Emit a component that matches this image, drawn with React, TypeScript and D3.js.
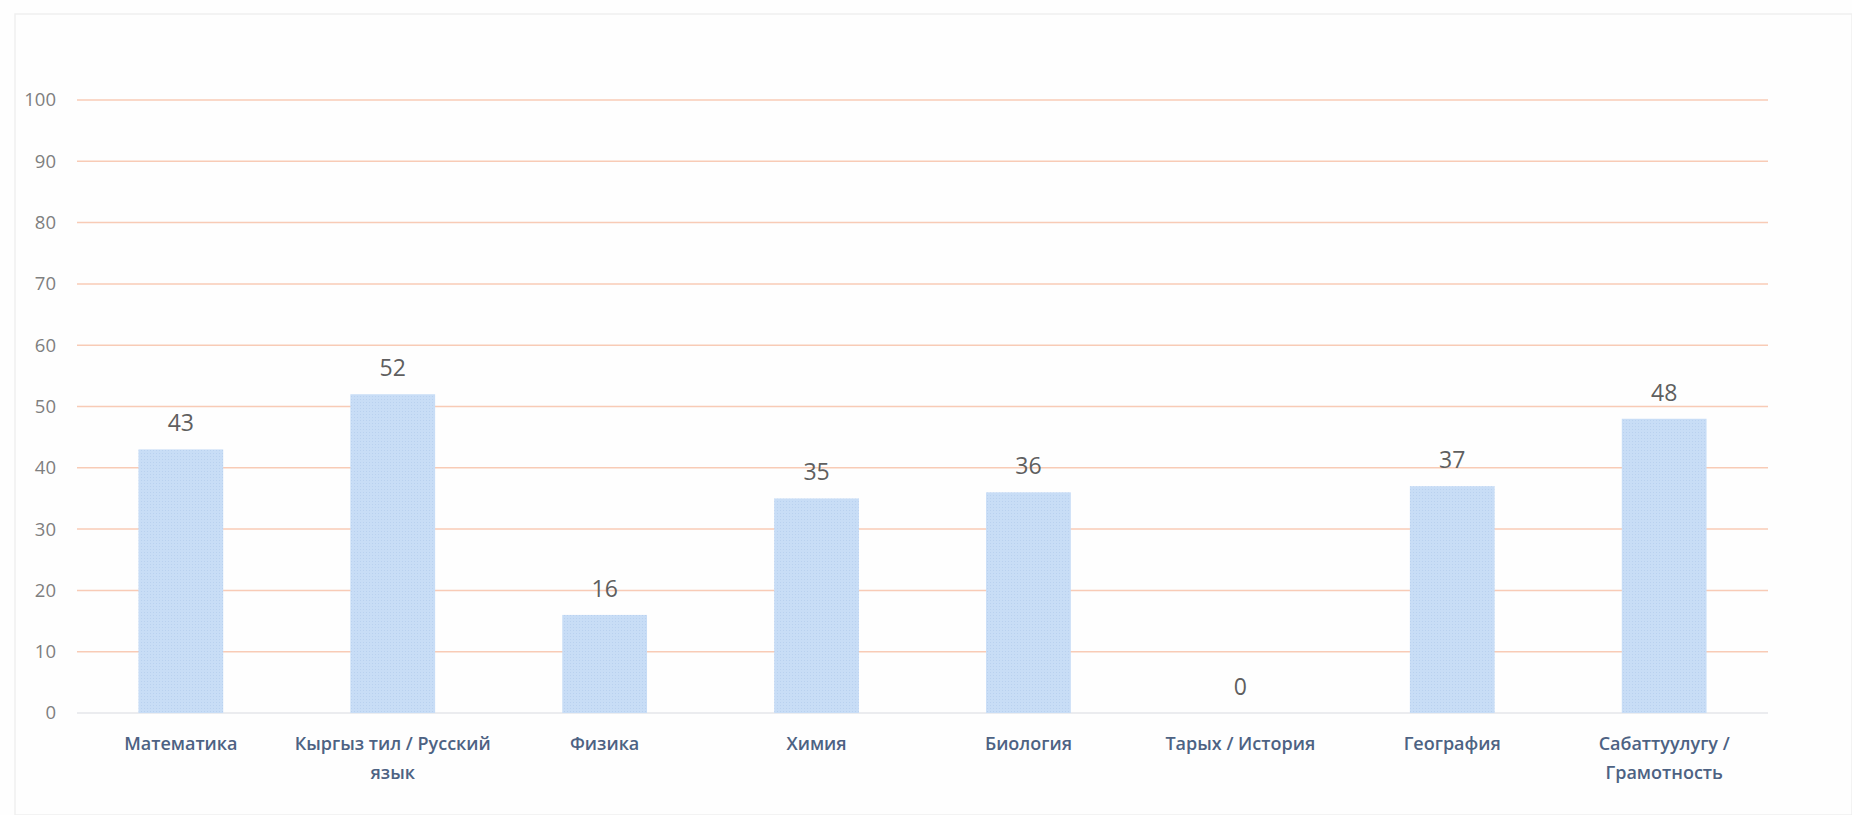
import React, { useEffect, useRef } from "react";
import * as d3 from "d3";

const categories: string[][] = [
  ["Математика"],
  ["Кыргыз тил / Русский", "язык"],
  ["Физика"],
  ["Химия"],
  ["Биология"],
  ["Тарых / История"],
  ["География"],
  ["Сабаттуулугу /", "Грамотность"],
];
const values: number[] = [43, 52, 16, 35, 36, 0, 37, 48];
const yTicks: number[] = [0, 10, 20, 30, 40, 50, 60, 70, 80, 90, 100];

const W = 1852;
const H = 815;

export default function App() {
  const ref = useRef<SVGSVGElement>(null);
  useEffect(() => {
    const svg = d3.select(ref.current);
    svg.selectAll("*").remove();
    const left = 77, right = 1768, top = 100, bottom = 713;
    const keys = categories.map((c) => c.join(" "));
    const x = d3.scaleBand<string>().domain(keys).range([left, right]).paddingInner(0.6).paddingOuter(0.29);
    const y = d3.scaleLinear().domain([0, 100]).range([bottom, top]);

    const defs = svg.append("defs");
    const pat = defs.append("pattern").attr("id", "dots").attr("width", 3).attr("height", 3).attr("patternUnits", "userSpaceOnUse");
    pat.append("rect").attr("width", 3).attr("height", 3).attr("fill", "#c8ddf6");
    pat.append("rect").attr("width", 1).attr("height", 1).attr("fill", "#b9d1ef");

    svg.append("rect").attr("x", 0).attr("y", 0).attr("width", W).attr("height", H).attr("fill", "#fefefe");
    svg.append("rect").attr("x", 15).attr("y", 14).attr("width", W - 15).attr("height", H - 14)
      .attr("fill", "none").attr("stroke", "#efefef").attr("stroke-width", 1.5);

    const g = svg.append("g");
    g.selectAll("line.grid").data(yTicks.filter((t) => t > 0)).join("line")
      .attr("class", "grid")
      .attr("x1", left).attr("x2", right)
      .attr("y1", (d) => y(d)).attr("y2", (d) => y(d))
      .attr("stroke", "#f8cbb6").attr("stroke-width", 1.5);
    g.append("line").attr("x1", left).attr("x2", right).attr("y1", y(0)).attr("y2", y(0))
      .attr("stroke", "#e4e6ea").attr("stroke-width", 1.5);

    g.selectAll("text.ytick").data(yTicks).join("text")
      .attr("class", "ytick")
      .attr("x", 56).attr("y", (d) => y(d)).attr("dy", "0.35em")
      .attr("text-anchor", "end")
      .attr("font-family", "Open Sans")
      .attr("font-size", 18.5)
      .attr("fill", "#7f7f7f")
      .text((d) => String(d));

    g.selectAll("rect.bar").data(values).join("rect")
      .attr("class", "bar")
      .attr("x", (_, i) => x(keys[i])!)
      .attr("width", x.bandwidth())
      .attr("y", (d) => y(d))
      .attr("height", (d) => y(0) - y(d))
      .attr("fill", "url(#dots)");

    g.selectAll("text.val").data(values).join("text")
      .attr("class", "val")
      .attr("x", (_, i) => x(keys[i])! + x.bandwidth() / 2)
      .attr("y", (d) => y(d) - 18)
      .attr("text-anchor", "middle")
      .attr("font-family", "Open Sans")
      .attr("font-size", 23)
      .attr("fill", "#5f5f5f")
      .text((d) => String(d));

    const cl = g.selectAll("text.cat").data(categories).join("text")
      .attr("class", "cat")
      .attr("x", (_, i) => x(keys[i])! + x.bandwidth() / 2)
      .attr("y", 750)
      .attr("text-anchor", "middle")
      .attr("font-family", "Open Sans")
      .attr("font-weight", 600)
      .attr("font-size", 18)
      .attr("fill", "#4d6283");
    cl.each(function (d, i) {
      const t = d3.select(this);
      d.forEach((line, j) => {
        t.append("tspan").attr("x", x(keys[i])! + x.bandwidth() / 2).attr("dy", j === 0 ? 0 : 29).text(line);
      });
    });
  }, []);
  return (
    <svg ref={ref} width={W} height={H} style={{ position: "absolute", left: 0, top: 0, display: "block" }} />
  );
}
